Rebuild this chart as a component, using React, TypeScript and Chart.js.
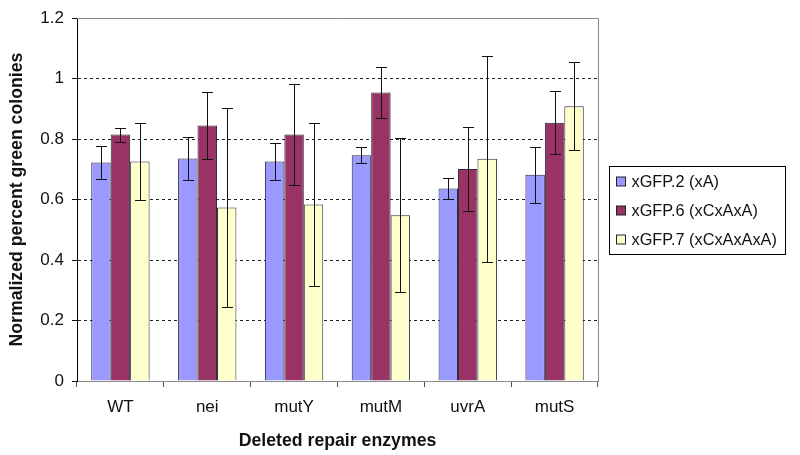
import { useEffect, useRef } from "react";
import { Chart, registerables } from "chart.js";

Chart.register(...registerables);

const categories = ["WT", "nei", "mutY", "mutM", "uvrA", "mutS"];
const seriesNames = ["xGFP.2 (xA)", "xGFP.6 (xCxAxA)", "xGFP.7 (xCxAxAxA)"];

const xgfp2Values = [0.723, 0.736, 0.726, 0.747, 0.637, 0.682];
const xgfp2Errors = [0.055, 0.07, 0.06, 0.027, 0.036, 0.092];

const xgfp6Values = [0.815, 0.845, 0.815, 0.954, 0.701, 0.854];
const xgfp6Errors = [0.023, 0.111, 0.168, 0.085, 0.14, 0.104];

const xgfp7Values = [0.726, 0.574, 0.584, 0.548, 0.735, 0.909];
const xgfp7Errors = [0.127, 0.33, 0.27, 0.255, 0.34, 0.145];

const seriesColors = ["#9999FF", "#993366", "#FFFFCC"];

const FONT = "'Liberation Sans', Arial, sans-serif";

const framePlugin = {
  id: "frame",
  beforeDatasetsDraw(chart: any) {
    const { ctx, chartArea: a } = chart;
    ctx.save();
    ctx.strokeStyle = "#8a8a8a";
    ctx.lineWidth = 1;
    ctx.beginPath();
    ctx.moveTo(Math.round(a.left), Math.round(a.top) + 0.5);
    ctx.lineTo(Math.round(a.right) + 0.5, Math.round(a.top) + 0.5);
    ctx.lineTo(Math.round(a.right) + 0.5, Math.round(a.bottom));
    ctx.stroke();
    ctx.restore();
  },
};

const errorBarPlugin = {
  id: "errorBars",
  afterDatasetsDraw(chart: any) {
    const { ctx } = chart;
    const yScale = chart.scales.y;
    ctx.save();
    ctx.strokeStyle = "#111";
    ctx.lineWidth = 1;
    chart.data.datasets.forEach((ds: any, i: number) => {
      const meta = chart.getDatasetMeta(i);
      meta.data.forEach((bar: any, j: number) => {
        const v = ds.data[j];
        const e = ds.errors[j];
        const yt = Math.round(yScale.getPixelForValue(v + e)) + 0.5;
        const yb = Math.round(yScale.getPixelForValue(v - e)) + 0.5;
        const x = Math.round(bar.x) + 0.5;
        ctx.beginPath();
        ctx.moveTo(x, yt);
        ctx.lineTo(x, yb);
        ctx.moveTo(x - 5.5, yt);
        ctx.lineTo(x + 5.5, yt);
        ctx.moveTo(x - 5.5, yb);
        ctx.lineTo(x + 5.5, yb);
        ctx.stroke();
      });
    });
    ctx.restore();
  },
};

const boxLegendPlugin = {
  id: "boxLegend",
  afterDraw(chart: any) {
    const { ctx, chartArea: a } = chart;
    const left = Math.round(a.right) + 11.5;
    const top = 166.5;
    const w = 176;
    const h = 88;
    ctx.save();
    ctx.fillStyle = "#fff";
    ctx.fillRect(left, top, w, h);
    ctx.strokeStyle = "#000";
    ctx.lineWidth = 1;
    ctx.strokeRect(left, top, w, h);
    ctx.font = `16.3px ${FONT}`;
    ctx.textBaseline = "middle";
    ctx.textAlign = "left";
    chart.data.datasets.forEach((ds: any, i: number) => {
      const cy = Math.round(top + 15 + i * 29.2);
      ctx.fillStyle = ds.backgroundColor;
      ctx.fillRect(left + 7, cy - 5, 9, 9);
      ctx.strokeStyle = "#222";
      ctx.strokeRect(left + 7, cy - 5, 9, 9);
      ctx.fillStyle = "#111";
      ctx.fillText(ds.label, left + 22, cy + 1);
    });
    ctx.restore();
  },
};

export default function App() {
  const canvasRef = useRef<HTMLCanvasElement | null>(null);

  useEffect(() => {
    if (!canvasRef.current) return;
    const values = [xgfp2Values, xgfp6Values, xgfp7Values];
    const errors = [xgfp2Errors, xgfp6Errors, xgfp7Errors];
    const chart = new Chart(canvasRef.current, {
      type: "bar",
      data: {
        labels: categories,
        datasets: seriesNames.map((name, i) => ({
          label: name,
          data: values[i],
          errors: errors[i],
          backgroundColor: seriesColors[i],
          borderColor: "#2a2a3a",
          borderWidth: 1,
          borderSkipped: "bottom",
          categoryPercentage: 0.672,
          barPercentage: 1.0,
        })) as any,
      },
      options: {
        animation: false,
        responsive: false,
        maintainAspectRatio: false,
        layout: { padding: { left: 0, right: 202, top: 17, bottom: 0 } },
        plugins: {
          legend: { display: false },
          tooltip: { enabled: false },
        },
        scales: {
          x: {
            afterFit: (scale: any) => {
              scale.height = 74;
            },
            grid: {
              offset: true,
              drawOnChartArea: false,
              drawTicks: true,
              tickLength: 6,
              tickColor: "#555",
            },
            border: { display: true, color: "#8a8a8a", width: 1 },
            ticks: {
              color: "#111",
              font: { family: FONT, size: 17 },
              padding: 10,
            },
            title: {
              display: true,
              text: "Deleted repair enzymes",
              color: "#111",
              font: { family: FONT, size: 17.7, weight: "bold" },
              padding: { top: 4, bottom: 3 },
            },
          },
          y: {
            min: 0,
            max: 1.2,
            afterFit: (scale: any) => {
              scale.width = 77;
            },
            ticks: {
              stepSize: 0.2,
              color: "#111",
              font: { family: FONT, size: 17 },
              padding: 8,
              callback: (v: any) => String(Math.round(Number(v) * 10) / 10),
            },
            grid: {
              color: (c: any) => {
                const v = c.tick ? c.tick.value : 0;
                return Math.abs(v) < 1e-6 || Math.abs(v - 1.2) < 1e-6 ? "rgba(0,0,0,0)" : "#222";
              },
              drawTicks: true,
              tickLength: 5,
              tickColor: "#111",
              tickBorderDash: [],
              lineWidth: 1,
            },
            border: { display: true, color: "#000", width: 1, dash: [3, 3] },
            title: {
              display: true,
              text: "Normalized percent green colonies",
              color: "#111",
              font: { family: FONT, size: 17.7, weight: "bold" },
              padding: { top: 6, bottom: 4 },
            },
          },
        },
      } as any,
      plugins: [framePlugin, errorBarPlugin, boxLegendPlugin],
    });
    return () => chart.destroy();
  }, []);

  return (
    <div style={{ position: "fixed", left: 0, top: 0, width: 800, height: 455, background: "#fff" }}>
      <canvas ref={canvasRef} width={800} height={455} style={{ width: 800, height: 455, display: "block" }} />
    </div>
  );
}
